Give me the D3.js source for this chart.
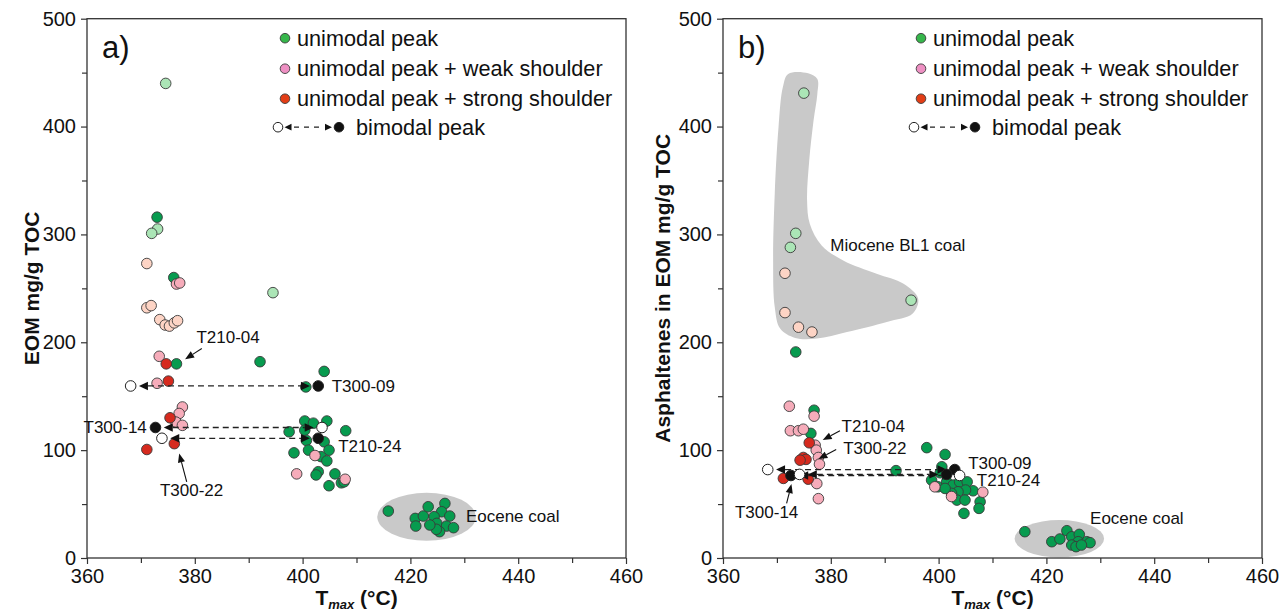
<!DOCTYPE html>
<html>
<head>
<meta charset="utf-8">
<script src="https://cdn.jsdelivr.net/npm/d3@7"></script>
<style>
  body { margin: 0; background: #ffffff; }
  svg text { font-family: "Liberation Sans", Arial, Helvetica, sans-serif; }
</style>
</head>
<body>
<svg id="chart" width="1281" height="611"></svg>
<script>
// ---------- axis ticks ----------
const xTickLabels = [360, 380, 400, 420, 440, 460];
const xMinorTicks = [370, 390, 410, 430, 450];
const yTickLabels = [0, 100, 200, 300, 400, 500];
const yMinorTicks = [50, 150, 250, 350, 450];

const legendLabels = ["unimodal peak", "unimodal peak + weak shoulder",
                      "unimodal peak + strong shoulder", "bimodal peak"];

// ---------- panel a: EOM yield [Tmax °C, mg/g TOC] ----------
const eomUnimodalBL1 = [[374.6, 440], [373.1, 305], [372.0, 301], [394.5, 246]];
const eomUnimodal = [
  [373.0, 316], [376.1, 260], [376.6, 180], [392.1, 182], [404.0, 173], [400.6, 158.6],
  [397.5, 117], [398.4, 97.5], [400.4, 127], [402.0, 125], [404.5, 127], [400.4, 118.5],
  [408.0, 118], [400.7, 109], [401.1, 100], [404.0, 107.7], [404.9, 100], [403.4, 94],
  [404.5, 90], [402.9, 80], [402.5, 77], [406.0, 78], [404.9, 67], [407.2, 69.7], [407.7, 70.6],
  [415.9, 43.5], [420.9, 36.7], [422.4, 38.9], [423.3, 47.5], [426.4, 50.6], [425.8, 42.9],
  [424.4, 38.3], [427.3, 38.9], [421.0, 29.6], [424.9, 32.1], [426.7, 29.6], [428.0, 28.1],
  [425.4, 24.4], [424.8, 26.6], [423.6, 30.6]
];
const eomWeakBL1 = [[371.1, 273], [371.1, 232], [371.9, 234], [373.5, 221], [374.5, 216],
                    [375.3, 215], [376.2, 218], [376.8, 220]];
const eomWeak = [[376.6, 254], [377.2, 255], [373.4, 187], [373.0, 162], [377.7, 140],
                 [377.1, 134], [376.5, 126], [377.7, 123], [402.3, 95], [398.9, 78], [407.9, 73]];
const eomStrong = [[374.7, 180], [375.1, 164], [375.4, 130], [376.2, 106], [371.1, 100.6]];
// bimodal samples: lower and higher Tmax peak, value, fill of the lower peak
const eomBimodal = [
  { id: "T300-09", low: 368.1, high: 402.9, value: 159.5, lowFill: "white" },
  { id: "T300-14", low: 372.7, high: 403.6, value: 121, lowFill: "black" },
  { id: "T210-24", low: 373.9, high: 402.9, value: 111, lowFill: "white" }
];
const eomLabels = [
  { text: "T210-04", t: 380.3, v: 204.6, anchor: "start", from: [381.3, 194.2], to: [378.2, 184.3] },
  { text: "T300-09", t: 405.4, v: 159.3, anchor: "start" },
  { text: "T300-14", t: 371.1, v: 121.6, anchor: "end" },
  { text: "T210-24", t: 406.6, v: 103.7, anchor: "start" },
  { text: "T300-22", t: 379.4, v: 63, anchor: "middle", from: [378.5, 70.6], to: [377.1, 96.9] },
  { text: "Eocene coal", t: 430.3, v: 38.9, anchor: "start" }
];
const eomEocene = { t: 423.0, v: 38.2, rt: 9.15, rv: 22.2 };

// ---------- panel b: asphaltenes in EOM [Tmax °C, mg/g TOC] ----------
const aspUnimodalBL1 = [[375.0, 431], [373.5, 301], [372.5, 288], [394.9, 239]];
const aspUnimodal = [
  [373.5, 191], [376.9, 137], [376.3, 115.5], [397.8, 102.3], [401.2, 96], [392.1, 81],
  [400.6, 84.6], [400.3, 79], [398.7, 72.2], [399.9, 66], [401.5, 70.6], [402.7, 67.6],
  [403.9, 70.6], [405.3, 70.6], [406.4, 62.3], [405.0, 63], [403.6, 61.4], [402.4, 59.9],
  [401.2, 64.5], [403.4, 53.7], [404.9, 53.7], [407.7, 52.1], [407.5, 46], [404.7, 41.4],
  [416.0, 24.4], [421.0, 15.1], [422.5, 17.6], [423.8, 25.3], [424.7, 19.7], [426.1, 21.9],
  [425.9, 15.1], [427.5, 15.1], [428.1, 14.2], [424.7, 12], [425.5, 10.5], [426.5, 12]
];
const aspWeakBL1 = [[371.5, 264], [371.5, 227.5], [374.0, 214], [376.5, 209.5]];
const aspWeak = [[372.3, 140.7], [376.9, 131.5], [372.5, 118], [374.0, 118], [374.9, 119.4],
                 [377.1, 104.6], [377.3, 100], [377.7, 93.2], [377.9, 87], [377.4, 69],
                 [377.7, 55], [399.3, 66], [402.4, 57], [408.2, 61]];
const aspStrong = [[376.0, 106.8], [374.9, 93.2], [375.4, 91.4], [374.3, 90.7],
                   [371.2, 73.8], [375.8, 73.1]];
const aspBimodal = [
  { id: "T300-09", low: 368.3, high: 403.0, value: 82, lowFill: "white" },
  { id: "T300-14", low: 372.6, high: 403.9, value: 76.5, lowFill: "black" },
  { id: "T210-24", low: 374.2, high: 401.5, value: 77.5, lowFill: "white" }
];
const aspLabels = [
  { text: "Miocene BL1 coal", t: 379.9, v: 290.5, anchor: "start" },
  { text: "T210-04", t: 382.0, v: 122.5, anchor: "start", from: [381.7, 117.9], to: [378.5, 109.3] },
  { text: "T300-22", t: 382.3, v: 101.6, anchor: "start", from: [381.0, 100.6], to: [377.7, 91.7] },
  { text: "T300-14", t: 368.1, v: 42.9, anchor: "middle", from: [371.8, 50.6], to: [372.7, 68.5] },
  { text: "T300-09", t: 405.5, v: 87.7, anchor: "start" },
  { text: "T210-24", t: 407.1, v: 72.2, anchor: "start" },
  { text: "Eocene coal", t: 428.1, v: 36.8, anchor: "start" }
];
const aspEocene = { t: 422.4, v: 17.9, rt: 8.3, rv: 17.3 };
// outline of the Miocene BL1 coal field
const aspMioceneField = [
  [372.1, 448.8], [375.8, 449.4], [377.5, 444.1], [377.5, 430.3], [376.8, 405.6], [376.0, 368.5],
  [375.6, 331.5], [376.1, 309.9], [378.3, 289.8], [382.3, 275.9], [388.5, 263.6], [393.5, 254.3],
  [396.2, 240.5], [395.2, 226.6], [390.4, 218.8], [383.0, 209.5], [377.4, 203.4], [373.4, 204.0],
  [370.6, 212.7], [369.6, 232.7], [369.3, 275.9], [369.6, 337.7], [370.3, 399.4], [371.1, 436.4]
];

// ---------- styling ----------
const C = {
  green: "#079b4f", greenBL1: "#abe5b6", pink: "#f6acba", pinkBL1: "#fdd4c5", red: "#d62a1e",
  legGreen: "#36b64b", legPink: "#ee90c3", legRed: "#e23d16",
  field: "#c9c9c9", axis: "#333333", stroke: "#3a3a3a", ink: "#111111"
};
const R = 5.3;
const yTop = 18.7, yBottom = 558;

const svg = d3.select("#chart");

const panels = [
  { letter: "a)", yTitle: "EOM mg/g TOC", x0: 87, x1: 626, titleX: 32,
    bl1: eomUnimodalBL1, uni: eomUnimodal, weakBL1: eomWeakBL1, weak: eomWeak, strong: eomStrong,
    bimodal: eomBimodal, labels: eomLabels, eocene: eomEocene, field: null },
  { letter: "b)", yTitle: "Asphaltenes in EOM mg/g TOC", x0: 723, x1: 1262, titleX: 663,
    bl1: aspUnimodalBL1, uni: aspUnimodal, weakBL1: aspWeakBL1, weak: aspWeak, strong: aspStrong,
    bimodal: aspBimodal, labels: aspLabels, eocene: aspEocene, field: aspMioceneField }
];

function arrowHead(g, tx, ty, ang, len, half) {
  const bx = tx - len * Math.cos(ang), by = ty - len * Math.sin(ang);
  const px = -Math.sin(ang) * half, py = Math.cos(ang) * half;
  g.append("path")
    .attr("d", `M${tx},${ty}L${bx + px},${by + py}L${bx - px},${by - py}Z`)
    .attr("fill", C.ink);
}

panels.forEach(p => {
  const x = d3.scaleLinear().domain([360, 460]).range([p.x0, p.x1]);
  const y = d3.scaleLinear().domain([0, 500]).range([yBottom, yTop]);
  const g = svg.append("g");

  // shaded coal fields
  if (p.field) {
    g.append("path")
      .attr("d", d3.line().x(d => x(d[0])).y(d => y(d[1])).curve(d3.curveCatmullRomClosed.alpha(0.5))(p.field))
      .attr("fill", C.field);
  }
  g.append("ellipse")
    .attr("cx", x(p.eocene.t)).attr("cy", y(p.eocene.v))
    .attr("rx", x(p.eocene.t + p.eocene.rt) - x(p.eocene.t))
    .attr("ry", y(p.eocene.v - p.eocene.rv) - y(p.eocene.v))
    .attr("fill", C.field);

  // axes: major ticks with labels, minor ticks without
  const xAxis = d3.axisBottom(x).tickValues(xTickLabels).tickSize(6).tickPadding(5).tickFormat(d3.format("d"));
  const xMinor = d3.axisBottom(x).tickValues(xMinorTicks).tickSize(5).tickFormat("");
  const yAxis = d3.axisLeft(y).tickValues(yTickLabels).tickSize(6).tickPadding(5).tickFormat(d3.format("d"));
  const yMinor = d3.axisLeft(y).tickValues(yMinorTicks).tickSize(5).tickFormat("");
  [[xAxis, `translate(0,${yBottom})`], [xMinor, `translate(0,${yBottom})`],
   [yAxis, `translate(${p.x0},0)`], [yMinor, `translate(${p.x0},0)`]].forEach(([ax, tr]) => {
    const a = g.append("g").attr("transform", tr).call(ax);
    a.select(".domain").remove();
    a.selectAll("line").attr("stroke", C.axis).attr("stroke-width", 1.2);
    a.selectAll("text").attr("font-size", 20).attr("fill", C.ink)
      .style("font-family", '"Liberation Sans", Arial, sans-serif');
  });
  g.append("rect")
    .attr("x", p.x0).attr("y", yTop).attr("width", p.x1 - p.x0).attr("height", yBottom - yTop)
    .attr("fill", "none").attr("stroke", C.axis).attr("stroke-width", 1.3);

  // axis titles
  g.append("text")
    .attr("transform", `translate(${p.titleX},${(yTop + yBottom) / 2}) rotate(-90)`)
    .attr("text-anchor", "middle").attr("dy", "0.35em")
    .attr("font-size", 21).attr("font-weight", "bold").attr("fill", C.ink)
    .text(p.yTitle);
  const xt = g.append("text")
    .attr("x", (p.x0 + p.x1) / 2).attr("y", 605)
    .attr("text-anchor", "middle").attr("font-weight", "bold").attr("fill", C.ink);
  xt.append("tspan").attr("font-size", 21).text("T");
  xt.append("tspan").attr("font-size", 13).attr("font-style", "italic").attr("dy", 4).text("max");
  xt.append("tspan").attr("font-size", 21).attr("dy", -4).text(" (°C)");

  // panel letter
  g.append("text").attr("x", p.x0 + 15).attr("y", 58)
    .attr("font-size", 31).attr("fill", C.ink).text(p.letter);

  // data points
  const series = [[p.bl1, C.greenBL1], [p.uni, C.green], [p.weakBL1, C.pinkBL1],
                  [p.weak, C.pink], [p.strong, C.red]];
  series.forEach(([data, fill]) => {
    g.append("g").selectAll("circle").data(data).join("circle")
      .attr("cx", d => x(d[0])).attr("cy", d => y(d[1])).attr("r", R)
      .attr("fill", fill).attr("stroke", C.stroke).attr("stroke-width", 0.9);
  });

  // bimodal samples: dashed connector with arrowheads towards both peaks
  p.bimodal.forEach(b => {
    const xl = x(b.low), xr = x(b.high), yy = y(b.value);
    const tipL = xl + R + 3, tipR = xr - R - 3, len = 9;
    g.append("line")
      .attr("x1", tipL + len).attr("x2", tipR - len).attr("y1", yy).attr("y2", yy)
      .attr("stroke", "#222").attr("stroke-width", 1.3).attr("stroke-dasharray", "6,4");
    arrowHead(g, tipL, yy, Math.PI, len, 4.2);
    arrowHead(g, tipR, yy, 0, len, 4.2);
    [[b.low, b.lowFill], [b.high, b.lowFill === "white" ? "black" : "white"]].forEach(([t, f]) => {
      g.append("circle").attr("cx", x(t)).attr("cy", yy).attr("r", R)
        .attr("fill", f === "white" ? "#ffffff" : "#111111")
        .attr("stroke", "#222").attr("stroke-width", 1);
    });
  });

  // sample labels and pointer arrows
  p.labels.forEach(l => {
    if (l.from) {
      const fx = x(l.from[0]), fy = y(l.from[1]), tx = x(l.to[0]), ty = y(l.to[1]);
      const ang = Math.atan2(ty - fy, tx - fx), len = 9;
      g.append("line").attr("x1", fx).attr("y1", fy)
        .attr("x2", tx - len * Math.cos(ang)).attr("y2", ty - len * Math.sin(ang))
        .attr("stroke", C.ink).attr("stroke-width", 1.1);
      arrowHead(g, tx, ty, ang, len, 3.6);
    }
    g.append("text").attr("x", x(l.t)).attr("y", y(l.v)).attr("dy", "0.35em")
      .attr("text-anchor", l.anchor).attr("font-size", 17).attr("fill", C.ink).text(l.text);
  });

  // legend
  const lg = g.append("g").attr("transform", `translate(${p.x0 + 198},${yTop})`);
  const rowsY = [19.5, 50, 80, 108.5];
  const legFills = [C.legGreen, C.legPink, C.legRed];
  legFills.forEach((f, i) => {
    lg.append("circle").attr("cx", 0).attr("cy", rowsY[i]).attr("r", 4.8)
      .attr("fill", f).attr("stroke", C.stroke).attr("stroke-width", 0.9);
  });
  const by = rowsY[3];
  lg.append("circle").attr("cx", -7).attr("cy", by).attr("r", 4.8)
    .attr("fill", "#fff").attr("stroke", "#222").attr("stroke-width", 1);
  lg.append("circle").attr("cx", 54).attr("cy", by).attr("r", 4.8)
    .attr("fill", "#111").attr("stroke", "#222").attr("stroke-width", 1);
  arrowHead(lg, -0.5, by, Math.PI, 7, 3.4);
  arrowHead(lg, 47, by, 0, 7, 3.4);
  lg.append("line").attr("x1", 9).attr("x2", 38).attr("y1", by).attr("y2", by)
    .attr("stroke", "#222").attr("stroke-width", 1.3).attr("stroke-dasharray", "5,5");
  legendLabels.forEach((t, i) => {
    lg.append("text").attr("x", i === 3 ? 71 : 12).attr("y", rowsY[i]).attr("dy", "0.35em")
      .attr("font-size", 21.7).attr("fill", C.ink).text(t);
  });
});
</script>
</body>
</html>
